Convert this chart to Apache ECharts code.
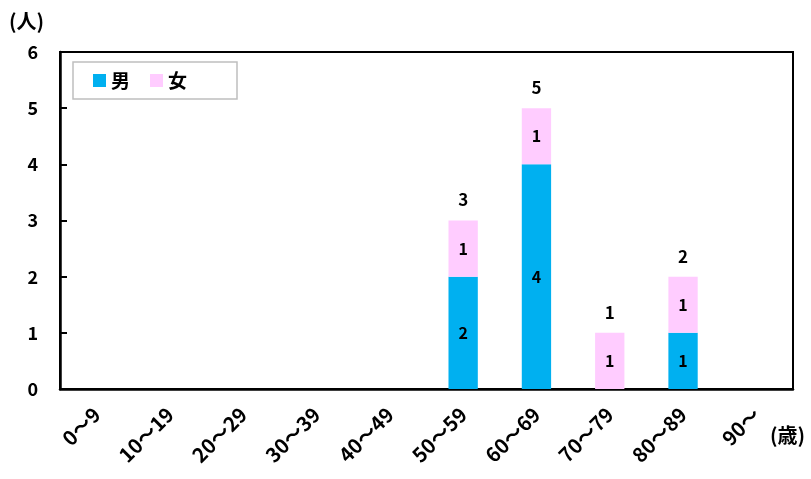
<!DOCTYPE html>
<html><head><meta charset="utf-8">
<script src="https://cdn.jsdelivr.net/npm/echarts@6/dist/echarts.min.js"></script>
<style>html,body{margin:0;padding:0;background:#fff}#c{width:811px;height:479px}</style>
</head><body><div id="c"></div>
<script>
var categories = ['0～9','10～19','20～29','30～39','40～49','50～59','60～69','70～79','80～89','90～'];
var male   = [0,0,0,0,0,2,4,0,1,0];
var female = [0,0,0,0,0,1,1,1,1,0];
var totals = [0,0,0,0,0,3,5,1,2,0];
var yTicks = [0,1,2,3,4,5,6];

var FONT = '"Noto Sans CJK JP", "DejaVu Sans", sans-serif';
var chart = echarts.init(document.getElementById('c'), null, {renderer:'canvas'});
function segLabel(p){ return p.value > 0 ? String(p.value) : ''; }
chart.setOption({
  animation:false,
  textStyle:{fontFamily:FONT},
  grid:{left:60,right:18,top:52,bottom:90,show:true,borderColor:'#000',borderWidth:2,backgroundColor:'transparent'},
  legend:{
    left:73, top:62, orient:'horizontal',
    data:['男','女'],
    icon:'rect', itemWidth:13, itemHeight:13, itemGap:20,
    padding:[9,50,9,20],
    borderColor:'#bfbfbf', borderWidth:1.5, backgroundColor:'#fff',
    textStyle:{fontSize:19, fontWeight:'bold', color:'#000', fontFamily:FONT}
  },
  xAxis:{
    type:'category', data:categories,
    axisLine:{lineStyle:{color:'#000',width:2.5}},
    axisTick:{inside:true,length:7,lineStyle:{color:'#000',width:2}},
    axisLabel:{rotate:45, margin:22, fontSize:20, fontWeight:'bold', color:'#000', fontFamily:FONT, interval:0}
  },
  yAxis:{
    type:'value', min:0, max:6, interval:1,
    splitLine:{show:false},
    axisLine:{show:true,lineStyle:{color:'#000',width:2.5}},
    axisTick:{show:true,inside:true,length:7,lineStyle:{color:'#000',width:2}},
    axisLabel:{margin:22, fontSize:18, fontWeight:'bold', color:'#000', fontFamily:FONT,
      formatter:function(v){return yTicks.indexOf(v)>=0?String(v):'';}}
  },
  graphic:[
    {type:'text', left:9, top:11, style:{text:'(人)', font:'bold 20px '+FONT, fill:'#000'}},
    {type:'text', left:770, top:425, style:{text:'(歳)', font:'bold 20px '+FONT, fill:'#000'}}
  ],
  series:[
    {name:'男', type:'bar', stack:'a', data:male, barWidth:'40%',
     itemStyle:{color:'#00B0F0'},
     label:{show:true, position:'inside', formatter:segLabel, fontSize:16, fontWeight:'bold', color:'#000', fontFamily:FONT}},
    {name:'女', type:'bar', stack:'a', data:female, barWidth:'40%',
     itemStyle:{color:'#FFCCFF'},
     label:{show:true, position:'inside', formatter:segLabel, fontSize:16, fontWeight:'bold', color:'#000', fontFamily:FONT}},
    {name:'合計', type:'bar', stack:'a', data:totals.map(function(){return 0;}), barWidth:'40%',
     itemStyle:{color:'transparent'}, silent:true,
     label:{show:true, position:'top', distance:12, fontSize:17, fontWeight:'bold', color:'#000', fontFamily:FONT,
       formatter:function(p){var t=totals[p.dataIndex];return t>0?String(t):'';}}}
  ]
});
</script></body></html>
